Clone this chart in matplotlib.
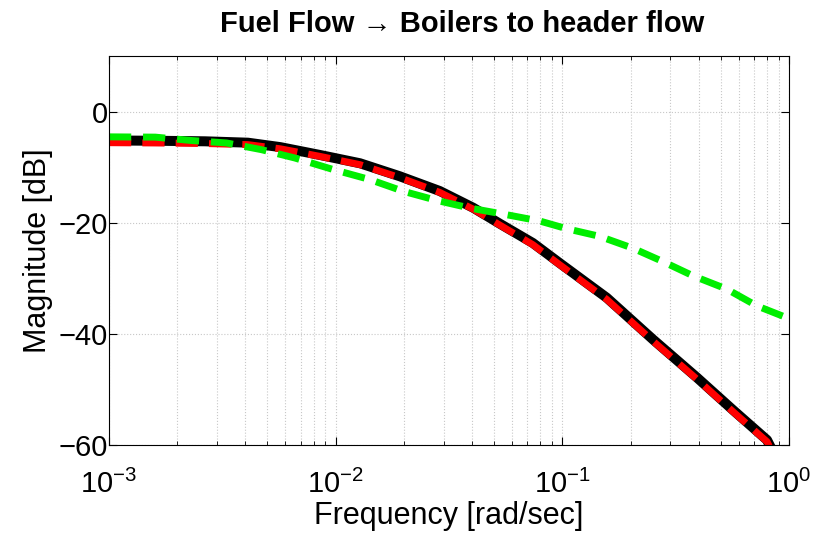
import numpy as np
import matplotlib.pyplot as plt
from matplotlib.ticker import LogLocator, LogFormatterMathtext, MultipleLocator

plt.rcParams['font.family'] = ['Liberation Sans', 'DejaVu Sans']
plt.rcParams['mathtext.fontset'] = 'custom'
plt.rcParams['mathtext.rm'] = 'Liberation Sans'
plt.rcParams['mathtext.it'] = 'Liberation Sans'
plt.rcParams['mathtext.bf'] = 'Liberation Sans:bold'

# frequency [rad/s], magnitude [dB]
freq_black = [0.001, 0.0016, 0.00265, 0.0041, 0.0057, 0.0085, 0.0128, 0.0192, 0.0288,
              0.0404, 0.0531, 0.0741, 0.0976, 0.157, 0.251, 0.391, 0.566, 0.80, 0.83]
mag_black = [-5.2, -5.25, -5.35, -5.6, -6.4, -7.8, -9.3, -11.65, -14.3,
             -17.3, -20.2, -23.65, -27.3, -33.5, -41.0, -47.8, -53.7, -59.1, -60.4]

freq_red = [0.001, 0.0016, 0.00265, 0.0041, 0.0057, 0.0085, 0.0128, 0.0192, 0.0288,
            0.0404, 0.0531, 0.0741, 0.0976, 0.157, 0.251, 0.391, 0.566, 0.80, 0.83]
mag_red = [-5.6, -5.65, -5.75, -5.95, -6.7, -8.05, -9.55, -11.9, -14.55,
           -17.55, -20.45, -23.95, -27.6, -33.8, -41.3, -48.1, -54.0, -59.4, -60.7]

freq_green = [0.001, 0.0016, 0.0023, 0.0033, 0.0047, 0.0066, 0.0097, 0.0142, 0.0199, 0.028,
              0.039, 0.0566, 0.0796, 0.105, 0.146, 0.205, 0.278, 0.377, 0.532, 0.72, 1.0]
mag_green = [-4.55, -4.6, -5.2, -5.65, -6.85, -8.35, -10.4, -12.25, -14.35, -16.0,
             -17.35, -18.55, -19.7, -21.1, -22.45, -24.6, -27.0, -29.55, -31.95, -34.95, -37.25]

fig = plt.figure(figsize=(8.15, 5.4), dpi=100)
ax = fig.add_axes([109 / 815, 1 - 445 / 540, 680 / 815, 389 / 540])

ax.semilogx(freq_black, mag_black, color='black', lw=7.2, solid_capstyle='butt', solid_joinstyle='round')
ax.semilogx(freq_red, mag_red, color='#ff0000', lw=5, ls=(0, (3.2, 1.6)))
ax.semilogx(freq_green, mag_green, color='#00ee00', lw=5, ls=(0, (3.2, 1.7)))

ax.set_xlim(1e-3, 1)
ax.set_ylim(-60, 10)
ax.yaxis.set_major_locator(MultipleLocator(20))
ax.xaxis.set_major_locator(LogLocator(base=10, numticks=10))
ax.xaxis.set_minor_locator(LogLocator(base=10, subs=np.arange(2, 10), numticks=20))
ax.xaxis.set_major_formatter(LogFormatterMathtext())

ax.grid(True, which='major', ls=':', color='#c8c8c8', lw=0.8)
ax.grid(True, which='minor', axis='x', ls=':', color='#c8c8c8', lw=0.8)

ax.tick_params(which='both', direction='in', top=True, right=True, labelsize=21)
ax.tick_params(axis='y', pad=1)
ax.tick_params(axis='x', pad=18)
ax.tick_params(which='major', length=6)
ax.tick_params(which='minor', length=3)
for s in ax.spines.values():
    s.set_linewidth(0.8)

ax.set_xlabel('Frequency [rad/sec]', fontsize=22, labelpad=1)
ax.set_ylabel('Magnitude [dB]', fontsize=22, labelpad=4)
ax.set_title('Fuel Flow \u2192 Boilers to header flow', fontsize=21, fontweight='bold', pad=17,
             x=0.52, family=['Liberation Sans', 'DejaVu Sans'])

fig.savefig('out.png', dpi=100)
